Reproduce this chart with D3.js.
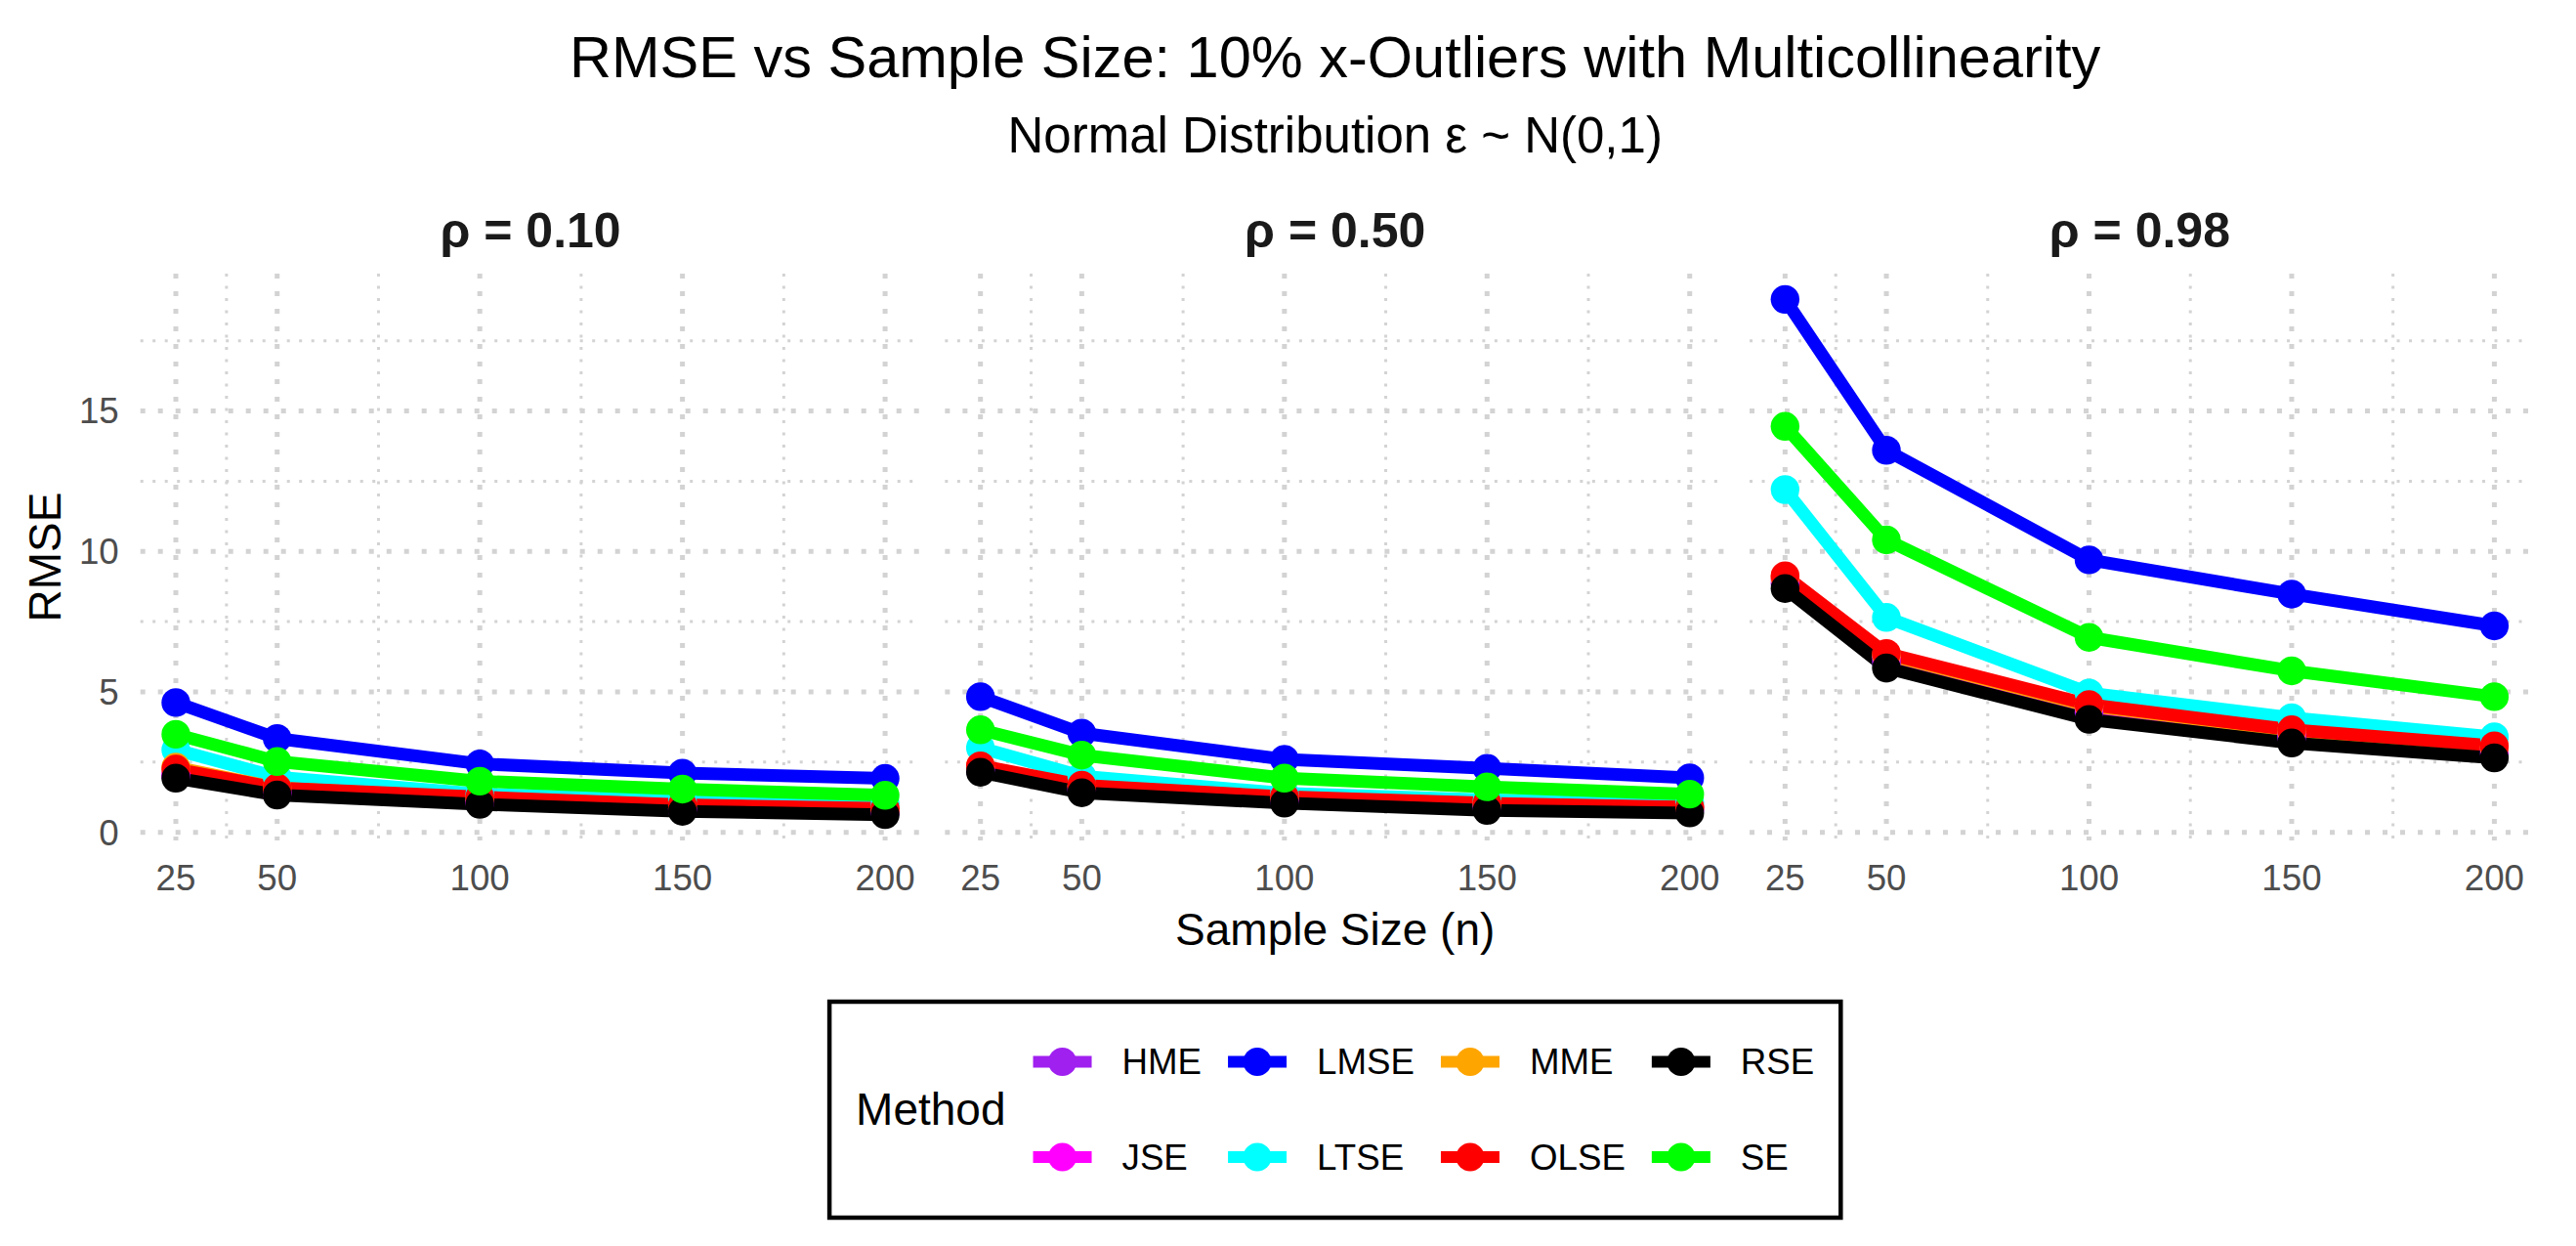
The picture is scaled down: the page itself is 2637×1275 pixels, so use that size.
<!DOCTYPE html>
<html>
<head>
<meta charset="utf-8">
<script src="https://cdn.jsdelivr.net/npm/d3@7"></script>
<style>
  html, body { margin: 0; padding: 0; background: #ffffff; }
  svg text { font-family: "Liberation Sans", Arial, sans-serif; }
</style>
</head>
<body>
<svg id="chart" width="2637" height="1275"></svg>
<script>
// data
const sampleSizes = [25, 50, 100, 150, 200];
const xMinorBreaks = [37.5, 75, 125, 175];
const yBreaks = [0, 5, 10, 15];
const yMinorBreaks = [2.5, 7.5, 12.5, 17.5];
const rhoLabels = ["ρ = 0.10", "ρ = 0.50", "ρ = 0.98"];

const methods = ["HME", "JSE", "LMSE", "LTSE", "MME", "OLSE", "RSE", "SE"];
const methodColors = ["#A020F0", "#FF00FF", "#0000FF", "#00FFFF", "#FFA500", "#FF0000", "#000000", "#00FF00"];

// one row per rho panel, one value per sample size
const rmseHME = [
  [2.00, 1.38, 1.05, 0.80, 0.70],
  [2.20, 1.50, 1.12, 0.90, 0.80],
  [8.85, 6.05, 4.25, 3.38, 2.82]
];
const rmseJSE = [
  [2.05, 1.42, 1.10, 0.85, 0.75],
  [2.28, 1.60, 1.19, 0.98, 0.87],
  [9.00, 6.24, 4.44, 3.52, 2.95]
];
const rmseLMSE = [
  [4.62, 3.34, 2.44, 2.11, 1.92],
  [4.83, 3.53, 2.60, 2.28, 1.94],
  [18.97, 13.60, 9.70, 8.48, 7.35]
];
const rmseLTSE = [
  [2.94, 1.97, 1.37, 1.13, 1.03],
  [3.01, 2.00, 1.39, 1.16, 1.04],
  [12.20, 7.65, 4.96, 4.08, 3.40]
];
const rmseMME = [
  [2.32, 1.58, 1.22, 0.95, 0.82],
  [2.35, 1.65, 1.24, 1.01, 0.88],
  [9.08, 6.32, 4.50, 3.60, 3.03]
];
const rmseOLSE = [
  [2.25, 1.58, 1.26, 0.98, 0.85],
  [2.37, 1.68, 1.27, 1.04, 0.90],
  [9.13, 6.37, 4.55, 3.65, 3.08]
];
const rmseRSE = [
  [1.93, 1.33, 1.00, 0.75, 0.63],
  [2.14, 1.41, 1.04, 0.78, 0.69],
  [8.68, 5.85, 4.02, 3.18, 2.65]
];
const rmseSE = [
  [3.49, 2.52, 1.82, 1.54, 1.32],
  [3.65, 2.75, 1.93, 1.62, 1.36],
  [14.45, 10.41, 6.94, 5.75, 4.83]
];

const rmseByMethod = [rmseHME, rmseJSE, rmseLMSE, rmseLTSE, rmseMME, rmseOLSE, rmseRSE, rmseSE];

const series = methods.map((method, i) => ({
  method: method,
  color: methodColors[i],
  panels: rmseByMethod[i]
}));

const width = 2637;
const margin = {left: 143.7, right: 47.3, top: 280, bottom: 415};
const panelGap = 25;
const panelWidth = (width - margin.left - margin.right - 2 * panelGap) / 3;
const panelHeight = 1275 - margin.top - margin.bottom;
const panelCenter = margin.left + (width - margin.left - margin.right) / 2;

const gridColor = "#d3d3d3";
const tickColor = "#4d4d4d";

// ggplot style 5% expansion
function expand(extent) {
  const pad = (extent[1] - extent[0]) * 0.05;
  return [extent[0] - pad, extent[1] + pad];
}

const allValues = series.flatMap(s => s.panels.flat());

const x = d3.scaleLinear()
  .domain(expand(d3.extent(sampleSizes)))
  .range([0, panelWidth]);

const y = d3.scaleLinear()
  .domain(expand(d3.extent(allValues)))
  .range([panelHeight, 0]);

const svg = d3.select("#chart");

svg.append("text")
  .attr("x", panelCenter)
  .attr("y", 79)
  .attr("text-anchor", "middle")
  .style("font-size", "59.5px")
  .style("fill", "#000")
  .text("RMSE vs Sample Size: 10% x-Outliers with Multicollinearity");

svg.append("text")
  .attr("x", panelCenter)
  .attr("y", 156)
  .attr("text-anchor", "middle")
  .style("font-size", "51px")
  .style("fill", "#000")
  .text("Normal Distribution ε ~ N(0,1)");

const line = d3.line()
  .x((d, i) => x(sampleSizes[i]))
  .y(d => y(d));

rhoLabels.forEach((label, p) => {
  const panel = svg.append("g")
    .attr("transform", `translate(${margin.left + p * (panelWidth + panelGap)},${margin.top})`);

  // strip label
  panel.append("text")
    .attr("x", panelWidth / 2)
    .attr("y", -27)
    .attr("text-anchor", "middle")
    .style("font-size", "50px")
    .style("font-weight", "bold")
    .style("fill", "#1a1a1a")
    .text(label);

  // minor grid
  panel.selectAll(".x-minor").data(xMinorBreaks).enter().append("line")
    .attr("x1", d => x(d)).attr("x2", d => x(d))
    .attr("y1", 0).attr("y2", panelHeight)
    .style("stroke", gridColor)
    .style("stroke-width", 3)
    .style("stroke-dasharray", "3 9.5");

  panel.selectAll(".y-minor").data(yMinorBreaks).enter().append("line")
    .attr("x1", 0).attr("x2", panelWidth)
    .attr("y1", d => y(d)).attr("y2", d => y(d))
    .style("stroke", gridColor)
    .style("stroke-width", 3)
    .style("stroke-dasharray", "3 9.5");

  // major grid
  panel.selectAll(".x-major").data(sampleSizes).enter().append("line")
    .attr("x1", d => x(d)).attr("x2", d => x(d))
    .attr("y1", 0).attr("y2", panelHeight)
    .style("stroke", gridColor)
    .style("stroke-width", 5)
    .style("stroke-dasharray", "5 13");

  panel.selectAll(".y-major").data(yBreaks).enter().append("line")
    .attr("x1", 0).attr("x2", panelWidth)
    .attr("y1", d => y(d)).attr("y2", d => y(d))
    .style("stroke", gridColor)
    .style("stroke-width", 5)
    .style("stroke-dasharray", "5 13");

  // x tick labels
  panel.selectAll(".x-tick").data(sampleSizes).enter().append("text")
    .attr("x", d => x(d))
    .attr("y", panelHeight + 51)
    .attr("text-anchor", "middle")
    .style("font-size", "36.7px")
    .style("fill", tickColor)
    .text(d => d);

  if (p === 0) {
    panel.selectAll(".y-tick").data(yBreaks).enter().append("text")
      .attr("x", -22)
      .attr("y", d => y(d))
      .attr("dy", "0.35em")
      .attr("text-anchor", "end")
      .style("font-size", "36.7px")
      .style("fill", tickColor)
      .text(d => d);
  }

  // lines first, then points on top (geom_line then geom_point)
  panel.selectAll(".series-line").data(series).enter().append("path")
    .attr("d", s => line(s.panels[p]))
    .style("fill", "none")
    .style("stroke", s => s.color)
    .style("stroke-width", 13)
    .style("stroke-linejoin", "round");

  series.forEach(s => {
    panel.append("g").selectAll("circle").data(s.panels[p]).enter().append("circle")
      .attr("cx", (d, i) => x(sampleSizes[i]))
      .attr("cy", d => y(d))
      .attr("r", 14.7)
      .style("fill", s.color);
  });
});

// axis titles
svg.append("text")
  .attr("x", panelCenter)
  .attr("y", 967)
  .attr("text-anchor", "middle")
  .style("font-size", "46px")
  .style("fill", "#000")
  .text("Sample Size (n)");

svg.append("text")
  .attr("transform", `translate(62,${margin.top + panelHeight / 2}) rotate(-90)`)
  .attr("text-anchor", "middle")
  .style("font-size", "46px")
  .style("fill", "#000")
  .text("RMSE");

// legend: 2 rows, filled column by column
const legendRows = 2;
const legendRowY = [1086.6, 1183.9];
const keyWidth = 60;
const keyGap = 31;
const columnSpacing = 27;
const legendPad = 27;

const legend = svg.append("g");
const legendBox = legend.append("rect");

const legendTitle = legend.append("text")
  .attr("y", (legendRowY[0] + legendRowY[1]) / 2)
  .attr("dy", "0.35em")
  .style("font-size", "46px")
  .style("fill", "#000")
  .text("Method");

const titleWidth = legendTitle.node().getComputedTextLength();

let cursor = titleWidth + 28;
const columns = d3.range(Math.ceil(series.length / legendRows));
columns.forEach(c => {
  const items = series.slice(c * legendRows, c * legendRows + legendRows);
  let widest = 0;
  items.forEach((s, r) => {
    const key = legend.append("g");
    key.append("line")
      .attr("x1", cursor).attr("x2", cursor + keyWidth)
      .attr("y1", legendRowY[r]).attr("y2", legendRowY[r])
      .style("stroke", s.color)
      .style("stroke-width", 12);
    key.append("circle")
      .attr("cx", cursor + keyWidth / 2)
      .attr("cy", legendRowY[r])
      .attr("r", 14.5)
      .style("fill", s.color);
    const label = legend.append("text")
      .attr("x", cursor + keyWidth + keyGap)
      .attr("y", legendRowY[r])
      .attr("dy", "0.35em")
      .style("font-size", "36.7px")
      .style("fill", "#000")
      .text(s.method);
    widest = Math.max(widest, label.node().getComputedTextLength());
  });
  cursor += keyWidth + keyGap + widest + (c < columns.length - 1 ? columnSpacing : 0);
});

const contentWidth = cursor;
const boxWidth = contentWidth + 2 * legendPad;
const boxLeft = panelCenter - boxWidth / 2;

legend.attr("transform", `translate(${boxLeft + legendPad},0)`);
legendBox
  .attr("x", -legendPad)
  .attr("y", 1025)
  .attr("width", boxWidth)
  .attr("height", 221)
  .style("fill", "#fff")
  .style("stroke", "#000")
  .style("stroke-width", 4.5);
</script>
</body>
</html>
